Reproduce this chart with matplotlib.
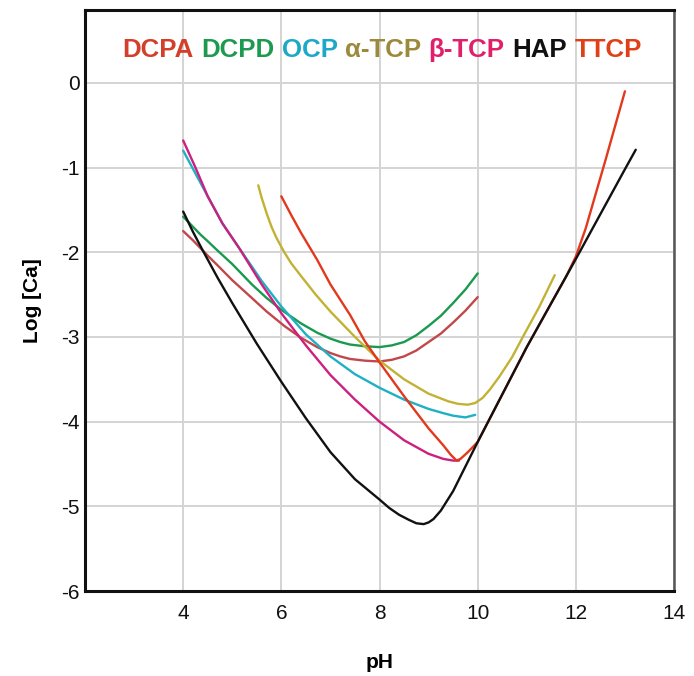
import matplotlib
matplotlib.use("Agg")
import matplotlib.pyplot as plt

plt.rcParams['font.family'] = ['Liberation Sans', 'DejaVu Sans']

# ---------------- data ----------------
dcpa_x = [4.0, 4.2, 4.35, 4.5, 4.71, 5.0, 5.38, 5.7, 6.06, 6.4, 6.73, 7.0, 7.2, 7.4, 7.7, 8.0, 8.25, 8.5, 8.75, 9.0, 9.25, 9.5, 9.75, 10.0]
dcpa_y = [-1.75, -1.86, -1.95, -2.04, -2.16, -2.33, -2.53, -2.7, -2.87, -3.01, -3.12, -3.19, -3.23, -3.26, -3.28, -3.29, -3.27, -3.23, -3.16, -3.06, -2.96, -2.83, -2.69, -2.53]

dcpd_x = [4.0, 4.2, 4.35, 4.5, 4.7, 5.0, 5.4, 5.7, 6.0, 6.4, 6.73, 7.0, 7.2, 7.4, 7.7, 8.0, 8.25, 8.5, 8.75, 9.0, 9.25, 9.5, 9.75, 10.0]
dcpd_y = [-1.58, -1.7, -1.79, -1.87, -1.98, -2.14, -2.38, -2.54, -2.68, -2.84, -2.95, -3.02, -3.06, -3.09, -3.11, -3.12, -3.1, -3.06, -2.98, -2.87, -2.75, -2.6, -2.44, -2.25]

ocp_x = [4.0, 4.25, 4.5, 4.8, 5.2, 5.6, 6.0, 6.5, 7.0, 7.5, 8.0, 8.5, 9.0, 9.3, 9.5, 9.75, 9.95]
ocp_y = [-0.8, -1.07, -1.34, -1.66, -2.0, -2.34, -2.64, -2.97, -3.23, -3.44, -3.6, -3.74, -3.85, -3.9, -3.93, -3.95, -3.92]

atcp_x = [5.53, 5.6, 5.7, 5.8, 5.9, 6.06, 6.2, 6.4, 6.7, 7.0, 7.5, 8.0, 8.5, 9.0, 9.4, 9.6, 9.8, 9.95, 10.1, 10.25, 10.44, 10.7, 10.92, 11.25, 11.57]
atcp_y = [-1.21, -1.36, -1.54, -1.7, -1.83, -2.0, -2.13, -2.28, -2.5, -2.7, -3.0, -3.28, -3.5, -3.67, -3.76, -3.79, -3.8, -3.78, -3.72, -3.62, -3.47, -3.24, -3.0, -2.65, -2.27]

btcp_x = [4.0, 4.25, 4.5, 4.8, 5.15, 5.6, 6.0, 6.5, 7.0, 7.5, 8.0, 8.5, 9.0, 9.3, 9.5, 9.62]
btcp_y = [-0.68, -1.0, -1.34, -1.66, -1.96, -2.38, -2.72, -3.1, -3.45, -3.74, -4.0, -4.22, -4.38, -4.44, -4.46, -4.46]

hap_x = [4.0, 4.2, 4.4, 4.7, 5.0, 5.5, 6.0, 6.5, 7.0, 7.5, 8.0, 8.2, 8.4, 8.6, 8.75, 8.9, 9.0, 9.1, 9.25, 9.5, 9.75, 10.0, 10.5, 11.0, 11.5, 12.0, 12.5, 13.0, 13.22]
hap_y = [-1.52, -1.76, -1.98, -2.3, -2.6, -3.08, -3.53, -3.96, -4.36, -4.68, -4.92, -5.02, -5.1, -5.16, -5.2, -5.21, -5.19, -5.15, -5.05, -4.82, -4.53, -4.24, -3.68, -3.12, -2.6, -2.08, -1.55, -1.02, -0.79]

ttcp_x = [6.0, 6.2, 6.4, 6.73, 7.0, 7.4, 7.7, 8.0, 8.5, 9.0, 9.3, 9.45, 9.57, 9.65, 9.8, 10.0, 10.5, 11.0, 11.5, 11.8, 12.0, 12.2, 12.4, 12.6, 12.8, 13.0]
ttcp_y = [-1.34, -1.56, -1.77, -2.09, -2.38, -2.74, -3.05, -3.3, -3.7, -4.08, -4.28, -4.39, -4.46, -4.44, -4.36, -4.24, -3.68, -3.12, -2.6, -2.29, -2.05, -1.72, -1.32, -0.92, -0.51, -0.1]

names = ['DCPA', 'DCPD', 'OCP', 'α-TCP', 'β-TCP', 'HAP', 'TTCP']
line_colors = ['#c2474a', '#1a9a4e', '#1fb0c4', '#c2b234', '#cc2080', '#111111', '#e2381c']
text_colors = ['#d2402c', '#1e9a50', '#1ca8c8', '#9c8a3c', '#e0206a', '#111111', '#e04018']

x_ticks = [4, 6, 8, 10, 12, 14]
y_ticks = [0, -1, -2, -3, -4, -5, -6]

series = [(dcpa_x, dcpa_y), (dcpd_x, dcpd_y), (ocp_x, ocp_y), (atcp_x, atcp_y),
          (btcp_x, btcp_y), (hap_x, hap_y), (ttcp_x, ttcp_y)]

# ---------------- figure ----------------
fig = plt.figure(figsize=(6.94, 6.76), dpi=100)
ax = fig.add_axes([0.1225, 0.1257, 0.8487, 0.8595])

ax.set_xlim(2, 14)
ax.set_ylim(-6, 0.86)

ax.set_xticks(x_ticks)
ax.set_yticks(y_ticks)
ax.set_xticklabels([str(v) for v in x_ticks])
ax.set_yticklabels([str(v) for v in y_ticks])
ax.tick_params(length=0, labelsize=15, colors='#111111')
ax.tick_params(axis='x', pad=9)
ax.tick_params(axis='y', pad=4)

ax.grid(True, color='#d4d4d4', linewidth=1.4)
ax.set_axisbelow(True)

for s in ax.spines.values():
    s.set_linewidth(2.2)
    s.set_color('#111111')
ax.spines['right'].set_color('#555555')
ax.spines['right'].set_linewidth(1.8)

order = [0, 1, 3, 2, 4, 6, 5]
for i in order:
    xs, ys = series[i]
    ax.plot(xs, ys, color=line_colors[i], linewidth=1.7,
            solid_capstyle='round', solid_joinstyle='round')

ax.set_xlabel('pH', fontsize=15, fontweight='bold', labelpad=22)
ax.set_ylabel('Log [Ca]', fontsize=15, fontweight='bold', labelpad=14)

# multi-coloured legend text centred at pixel (382, 50) from top
fig.canvas.draw()
renderer = fig.canvas.get_renderer()
texts = []
for n, c in zip(names, text_colors):
    t = fig.text(0, 0, n, color=c, fontsize=18.6, fontweight='bold', va='center', ha='left')
    texts.append(t)
fig.canvas.draw()
widths = [t.get_window_extent(renderer).width for t in texts]
space = 7.5
total = sum(widths) + space * (len(widths) - 1)
W, H = fig.bbox.width, fig.bbox.height
x0 = 382 - total / 2
yc = H - 50
for t, w in zip(texts, widths):
    t.set_position((x0 / W, yc / H))
    x0 += w + space

fig.savefig('out.png', dpi=100)
